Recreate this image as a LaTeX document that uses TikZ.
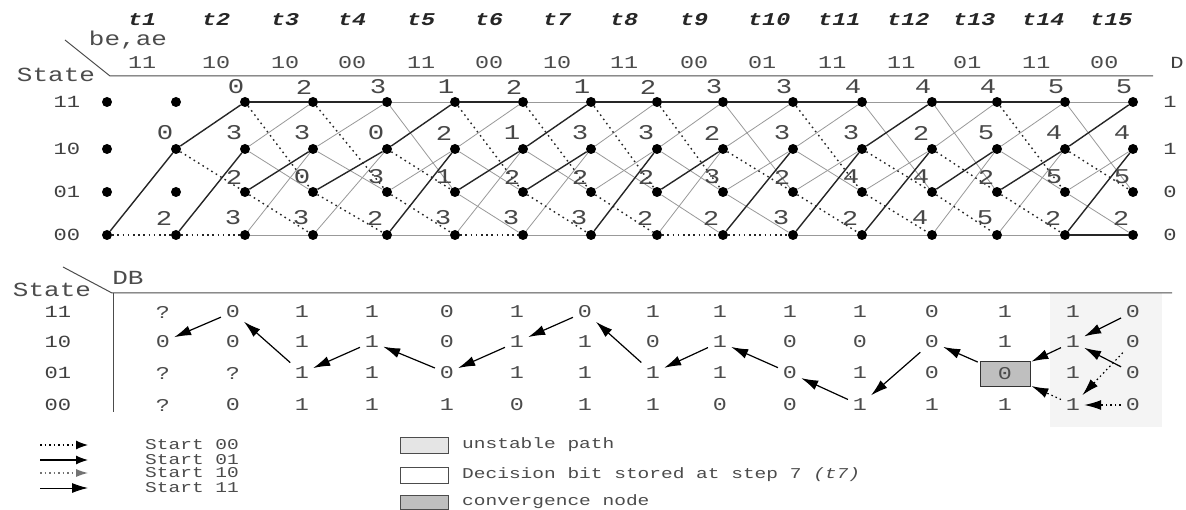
\documentclass[tikz,border=0pt]{standalone}
\usepackage{fontspec}
\newfontfamily\mono[FakeStretch=1.3]{Liberation Mono}
\usetikzlibrary{arrows.meta,calc}
\newcommand\myfs[1]{\fontsize{#1}{#1}\selectfont}
\begin{document}
\begin{tikzpicture}[x=1pt,y=-1pt,
  dot/.style={circle,fill=black,inner sep=0pt,minimum size=10pt},
  surv1/.style={line width=1.4pt,black!85},
  surv0/.style={line width=1.4pt,black!85,dash pattern=on 1.6pt off 3.6pt},
  lose/.style={line width=0.8pt,black!40},
  metric/.style={font=\mono\myfs{21},inner sep=0pt,text=black!72},
  bits/.style={font=\mono\myfs{18},inner sep=0pt,text=black!70,anchor=west},
  tlab/.style={font=\mono\bfseries\itshape\myfs{18},inner sep=0pt,text=black!85,anchor=west},
  hdr/.style={font=\mono\myfs{20},inner sep=0pt,text=black!70},
  slab/.style={font=\mono\myfs{17},inner sep=0pt,text=black!75},
  dbd/.style={font=\mono\myfs{18},inner sep=3pt,text=black!70},
  conv/.style={dbd,draw=black!80,fill=gray!50,line width=0.9pt,minimum width=50pt,minimum height=25pt},
  hline/.style={line width=1pt,black!70},
  dbarr/.style={line width=1.2pt,black,-{Latex[length=17pt,width=10pt]},shorten >=1pt,shorten <=2pt},
  dbdot/.style={dbarr,dash pattern=on 1.5pt off 3pt},
  leg/.style={font=\mono\myfs{15},inner sep=0pt,text=black!70,anchor=west}]
\useasboundingbox (0,0) rectangle (1186,510);
\fill[white] (0,0) rectangle (1186,510);

% ---------- header ----------
\foreach \b/\x [count=\i] in {11/128,10/202,10/271,00/338,11/407,00/475,10/543,11/610,00/680,01/748,11/818,11/887,01/953,11/1022,00/1090}{
  \node[bits] (b\i) at (\x,63) {\b};
  \node[tlab] (t\i) at (\x,20) {t\i};
}
\node[hdr] (st1) at (56,75) {State};
\node[hdr] (beae) at (128,40) {be,ae};
\coordinate (h1a) at (65,40);
\coordinate (h1b) at (110,76);
\coordinate (h1c) at (1153,76);
\draw[hline] (h1a) -- (h1b) -- (h1c);
\node[slab] (ls11) at (67,102) {11};
\node[slab] (ls10) at (67,149) {10};
\node[slab] (ls01) at (67,192) {01};
\node[slab] (ls00) at (67,235) {00};
\node[slab] (dh) at (1177,63) {D};
\node[slab] (d11) at (1170,102) {1};
\node[slab] (d10) at (1170,149) {1};
\node[slab] (d01) at (1170,192) {0};
\node[slab] (d00) at (1170,235) {0};

% ---------- trellis nodes ----------
\foreach \x [count=\i] in {107,176,245,313,387,455,523,591,657,723,793,862,932,997,1065,1133}{
  \node[dot] (n11-\i) at (\x,102) {};
  \node[dot] (n10-\i) at (\x,149) {};
  \node[dot] (n01-\i) at (\x,192) {};
  \node[dot] (n00-\i) at (\x,235) {};
}

% ---------- trellis branches ----------
\draw[surv0] (n00-1) -- (n00-2);
\draw[surv1] (n00-1) -- (n10-2);
\draw[surv0] (n00-2) -- (n00-3);
\draw[surv1] (n00-2) -- (n10-3);
\draw[surv0] (n10-2) -- (n01-3);
\draw[surv1] (n10-2) -- (n11-3);
\foreach \cc/\sa/\la/\sb/\lb/\sc/\lc/\sd/\ld in {
 4/01/00/01/00/11/10/11/10,
 5/01/00/01/00/11/10/11/10,
 6/01/00/00/01/10/11/10/11,
 7/00/01/01/00/11/10/11/10,
 8/01/00/01/00/11/10/10/11,
 9/01/00/00/01/11/10/11/10,
 10/00/01/01/00/11/10/11/10,
 11/00/01/00/01/10/11/11/10,
 12/01/00/00/01/11/10/11/10,
 13/01/00/00/01/10/11/10/11,
 14/01/00/01/00/10/11/11/10,
 15/01/00/01/00/11/10/11/10,
 16/00/01/00/01/10/11/10/11}{
  \pgfmathtruncatemacro\pp{\cc-1}
  \draw[lose] (n\la-\pp) -- (n00-\cc);
  \draw[lose] (n\lb-\pp) -- (n10-\cc);
  \draw[lose] (n\lc-\pp) -- (n01-\cc);
  \draw[lose] (n\ld-\pp) -- (n11-\cc);
  \ifnum\cc=16 \draw[surv1] (n\sa-\pp) -- (n00-\cc); \else \draw[surv0] (n\sa-\pp) -- (n00-\cc); \fi
  \draw[surv1] (n\sb-\pp) -- (n10-\cc);
  \draw[surv0] (n\sc-\pp) -- (n01-\cc);
  \draw[surv1] (n\sd-\pp) -- (n11-\cc);
}

% ---------- path metrics ----------
\foreach \v [count=\i from 3] in {0,2,3,1,2,1,2,3,3,4,4,4,5,5}
  \node[metric] (m11-\i) at ($(n11-\i)+(-9,-15)$) {\v};
\foreach \v [count=\i from 2] in {0,3,3,0,2,1,3,3,2,3,3,2,5,4,4}
  \node[metric] (m10-\i) at ($(n10-\i)+(-11,-16)$) {\v};
\foreach \v [count=\i from 3] in {2,0,3,1,2,2,2,3,2,4,4,2,5,5}
  \node[metric] (m01-\i) at ($(n01-\i)+(-11,-15)$) {\v};
\foreach \v [count=\i from 2] in {2,3,3,2,3,3,3,2,2,3,2,4,5,2,2}
  \node[metric] (m00-\i) at ($(n00-\i)+(-12,-17)$) {\v};

% ---------- decision bit table ----------
\fill[gray!9] (1050,293) rectangle (1162,427);
\node[hdr] (st2) at (52,290) {State};
\node[hdr] (db) at (128,278) {DB};
\coordinate (h2a) at (63,267);
\coordinate (h2b) at (112,293);
\coordinate (h2c) at (1172,293);
\coordinate (v2a) at (113,293);
\coordinate (v2b) at (113,412);
\draw[hline] (h2a) -- (h2b) -- (h2c);
\draw[hline] (v2a) -- (v2b);
\node[slab] (lt11) at (58,312) {11};
\node[slab] (lt10) at (58,342) {10};
\node[slab] (lt01) at (58,373) {01};
\node[slab] (lt00) at (58,405) {00};
\foreach \x/\ra/\rb/\rc/\rd [count=\i] in {163/?/0/?/?, 233/0/0/?/0, 302/1/1/1/1, 372/1/1/1/1,
  447/0/0/0/1, 517/1/1/1/0, 585/0/1/1/1, 653/1/0/1/1, 720/1/1/1/0, 790/1/0/0/0,
  860/1/0/1/1, 932/0/0/0/1, 1005/1/1/0/1, 1073/1/1/1/1, 1133/0/0/0/0}{
  \node[dbd] (db11-\i) at (\x,312) {\ra};
  \node[dbd] (db10-\i) at (\x,342) {\rb};
  \ifnum\i=13
    \node[conv] (db01-\i) at (\x,374) {\rc};
  \else
    \node[dbd] (db01-\i) at (\x,373) {\rc};
  \fi
  \node[dbd] (db00-\i) at (\x,405) {\rd};
}
% traceback arrows
\draw[dbarr] (db11-2) -- (db10-1);
\draw[dbarr] (db01-3) -- (db11-2);
\draw[dbarr] (db10-4) -- (db01-3);
\draw[dbarr] (db01-5) -- (db10-4);
\draw[dbarr] (db10-6) -- (db01-5);
\draw[dbarr] (db11-7) -- (db10-6);
\draw[dbarr] (db01-8) -- (db11-7);
\draw[dbarr] (db10-9) -- (db01-8);
\draw[dbarr] (db01-10) -- (db10-9);
\draw[dbarr] (db00-11) -- (db01-10);
\draw[dbarr] (db10-12) -- (db00-11);
\draw[dbarr] (db01-13) -- (db10-12);
\draw[dbarr] (db10-14) -- (db01-13);
\draw[dbarr] (db11-15) -- (db10-14);
\draw[dbarr] (db01-15) -- (db10-14);
\draw[dbdot] (db10-15) -- (db00-14);
\draw[dbdot] (db00-15) -- (db00-14);
\draw[dbdot] (db00-14) -- (db01-13);

% ---------- legend ----------
\coordinate (la1) at (40,445); \coordinate (lb1) at (88,445);
\coordinate (la2) at (40,460); \coordinate (lb2) at (88,460);
\coordinate (la3) at (40,473); \coordinate (lb3) at (88,473);
\coordinate (la4) at (40,488); \coordinate (lb4) at (88,488);
\draw[line width=1.2pt,black,dash pattern=on 1.5pt off 3pt,-{Latex[length=12pt,width=9pt]}] (la1) -- (lb1);
\draw[line width=1.2pt,black,-{Latex[length=12pt,width=9pt]}] (la2) -- (lb2);
\draw[line width=1.1pt,black!55,dash pattern=on 1.5pt off 3pt,-{Latex[length=12pt,width=8pt]}] (la3) -- (lb3);
\draw[line width=0.9pt,black,-{Latex[length=16pt,width=10pt]}] (la4) -- (lb4);
\node[leg] (tx1) at (145,445) {Start 00};
\node[leg] (tx2) at (145,460) {Start 01};
\node[leg] (tx3) at (145,473) {Start 10};
\node[leg] (tx4) at (145,488) {Start 11};
\node[draw=black!70,fill=gray!20,minimum width=48pt,minimum height=16pt,inner sep=0pt] (bx1) at (424,445) {};
\node[draw=black!70,fill=white,minimum width=48pt,minimum height=16pt,inner sep=0pt] (bx2) at (424,475) {};
\node[draw=black!70,fill=gray!50,minimum width=48pt,minimum height=14pt,inner sep=0pt] (bx3) at (424,502) {};
\node[leg] (ty1) at (462,445) {unstable path};
\node[leg] (ty2) at (462,475) {Decision bit stored at step 7 \textit{(t7)}};
\node[leg] (ty3) at (462,502) {convergence node};
\end{tikzpicture}
\end{document}
